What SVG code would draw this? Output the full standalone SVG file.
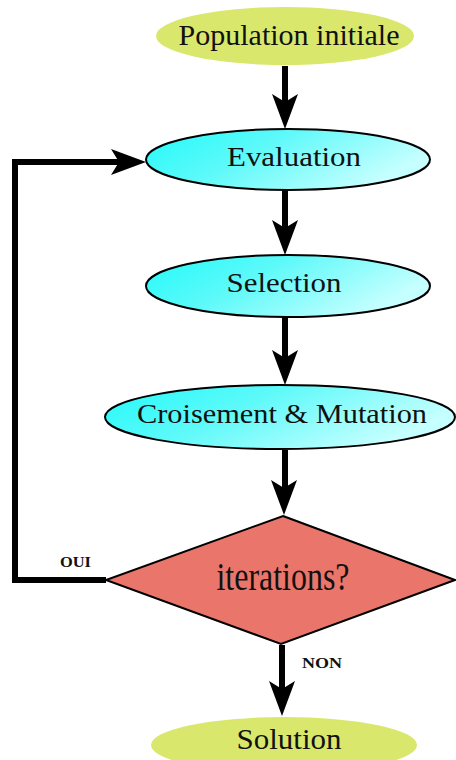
<svg xmlns="http://www.w3.org/2000/svg" width="456" height="760" viewBox="0 0 456 760">
<defs>
<linearGradient id="cyan" x1="0" y1="0" x2="1" y2="0.4">
<stop offset="0" stop-color="#22fafa"/>
<stop offset="0.45" stop-color="#5ef9f9"/>
<stop offset="1" stop-color="#c6ffff"/>
</linearGradient>
<path id="head" d="M0,0 L-13,-35 L0,-27 L13,-35 Z" fill="#000"/>
<style>
.term{fill:#d9e86c;stroke:none}
.proc{fill:url(#cyan);stroke:#000;stroke-width:2}
.dec{fill:#ea766b;stroke:#000;stroke-width:2}
.lbl{font-family:"Liberation Serif","Times New Roman",serif;fill:#111;text-anchor:middle}
.small{font-family:"Liberation Serif","Times New Roman",serif;font-weight:bold;font-size:15px;fill:#111}
.edge{stroke:#000;stroke-width:6;fill:none}
</style>
</defs>
<g id="connectors">
<line class="edge" x1="285" y1="66" x2="285" y2="110"/>
<use href="#head" transform="translate(285,129)"/>
<line class="edge" x1="285" y1="190" x2="285" y2="236"/>
<use href="#head" transform="translate(285,255)"/>
<line class="edge" x1="285" y1="317" x2="285" y2="366"/>
<use href="#head" transform="translate(285,385)"/>
<line class="edge" x1="285" y1="450" x2="285" y2="496"/>
<use href="#head" transform="translate(284,515)"/>
<line class="edge" x1="282" y1="645" x2="282" y2="696"/>
<use href="#head" transform="translate(282,716)"/>
<polyline class="edge" points="106,580 15,580 15,162 128,162"/>
<use href="#head" transform="translate(146,162) rotate(-90)"/>
<text class="small" x="60" y="567" textLength="31" lengthAdjust="spacingAndGlyphs">OUI</text>
<text class="small" x="302" y="668" textLength="40" lengthAdjust="spacingAndGlyphs">NON</text>
</g>
<g id="n-pop">
<ellipse class="term" cx="285" cy="36" rx="129" ry="29"/>
<text class="lbl" x="289" y="45" font-size="29" textLength="221" lengthAdjust="spacingAndGlyphs">Population initiale</text>
</g>
<g id="n-eval">
<ellipse class="proc" cx="288" cy="159.5" rx="142" ry="30.5"/>
<text class="lbl" x="294" y="166" font-size="28" textLength="134" lengthAdjust="spacingAndGlyphs">Evaluation</text>
</g>
<g id="n-sel">
<ellipse class="proc" cx="288" cy="286" rx="142" ry="31"/>
<text class="lbl" x="284" y="292" font-size="28" textLength="115" lengthAdjust="spacingAndGlyphs">Selection</text>
</g>
<g id="n-cross">
<ellipse class="proc" cx="280" cy="417" rx="175" ry="32"/>
<text class="lbl" x="282" y="423" font-size="28" textLength="290" lengthAdjust="spacingAndGlyphs">Croisement &amp; Mutation</text>
</g>
<g id="n-iter">
<polygon class="dec" points="283,516 455,580 281,644 106,580"/>
<text class="lbl" x="283" y="590" font-size="40" textLength="133" lengthAdjust="spacingAndGlyphs">iterations?</text>
</g>
<g id="n-sol">
<ellipse class="term" cx="284" cy="745" rx="133" ry="28"/>
<text class="lbl" x="289" y="749" font-size="30" textLength="105" lengthAdjust="spacingAndGlyphs">Solution</text>
</g>
</svg>
